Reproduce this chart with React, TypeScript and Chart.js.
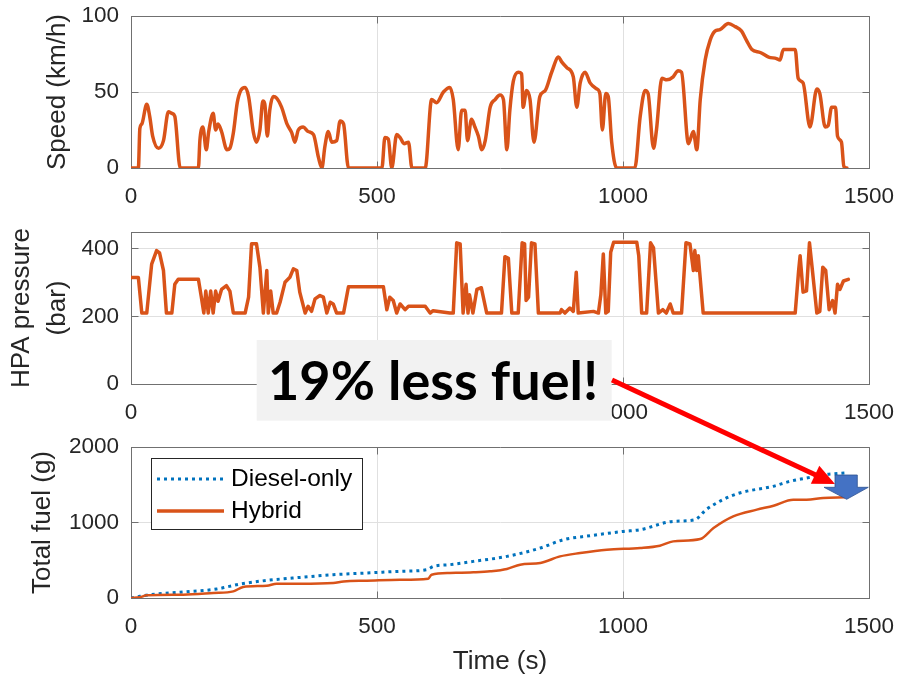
import React, { useEffect, useRef } from "react";
import { Chart, registerables } from "chart.js";

Chart.register(...registerables);

// ---------------- data ----------------
const X_TICKS = [0, 500, 1000, 1500];
const SPEED_TICKS = [0, 50, 100];
const HPA_TICKS = [0, 200, 400];
const FUEL_TICKS = [0, 1000, 2000];

const speedTime = [
  0, 15, 18, 22, 32, 38, 44, 56, 66, 76,
  83, 89, 100, 137, 140, 146, 153, 158, 167, 172,
  177, 184, 195, 201, 208, 216, 223, 232, 239, 249,
  255, 262, 268, 272, 277, 282, 289, 296, 306, 317,
  327, 333, 340, 350, 360, 371, 381, 388, 394, 401,
  408, 418, 425, 432, 442, 510, 516, 523, 530, 540,
  547, 555, 564, 571, 598, 611, 621, 635, 648, 655,
  665, 672, 679, 684, 692, 699, 706, 713, 720, 730,
  740, 750, 757, 764, 770, 777, 787, 794, 797, 804,
  811, 819, 831, 842, 855, 869, 875, 886, 899, 906,
  913, 923, 933, 947, 953, 958, 965, 970, 977, 987,
  1024, 1035, 1045, 1051, 1062, 1068, 1079, 1089, 1102, 1112,
  1119, 1133, 1143, 1150, 1157, 1167, 1177, 1187, 1197, 1214,
  1228, 1241, 1251, 1262, 1279, 1296, 1312, 1319, 1326, 1336,
  1350, 1356, 1366, 1380, 1394, 1400, 1411, 1417, 1424, 1432,
  1436, 1444, 1449, 1455,
];
const speedKmh = [
  0, 0, 26, 29, 42, 34, 21, 13, 18, 37,
  36, 34, 0, 0, 18, 27, 12, 24, 36, 25,
  29, 24, 12, 13, 23, 43, 51, 53, 47, 23,
  17, 25, 44, 42, 21, 38, 47, 46, 40, 29,
  23, 17, 25, 27, 24, 22, 7, 0, 14, 24,
  17, 18, 31, 29, 0, 0, 20, 19, 0, 22,
  20, 16, 17, 0, 0, 45, 43, 50, 53, 45,
  12, 38, 38, 18, 32, 27, 21, 12, 18, 40,
  45, 48, 45, 12, 38, 57, 63, 62, 40, 51,
  45, 17, 47, 51, 63, 73, 70, 66, 60, 40,
  56, 63, 56, 52, 49, 25, 49, 47, 17, 0,
  0, 34, 51, 49, 13, 25, 59, 58, 60, 64,
  63, 16, 24, 12, 45, 71, 84, 90, 91, 95,
  93, 90, 84, 78, 76, 73, 72, 71, 78, 78,
  78, 59, 56, 27, 52, 49, 27, 28, 40, 40,
  21, 17, 1, 0,
];

const hpaTime = [
  0, 15, 22, 32, 42, 52, 58, 66, 72, 83,
  89, 96, 137, 143, 148, 152, 157, 162, 167, 172,
  177, 184, 194, 201, 208, 232, 239, 245, 255, 262,
  269, 276, 279, 284, 289, 296, 303, 313, 323, 330,
  337, 343, 354, 360, 367, 374, 384, 391, 398, 405,
  411, 418, 432, 442, 513, 520, 526, 533, 540, 547,
  557, 564, 598, 608, 614, 648, 655, 662, 669, 675,
  681, 685, 688, 695, 703, 712, 723, 753, 760, 767,
  774, 787, 795, 800, 803, 808, 814, 821, 828, 872,
  875, 882, 892, 899, 905, 909, 940, 950, 955, 960,
  965, 970, 975, 981, 1028, 1032, 1038, 1048, 1056, 1062,
  1072, 1081, 1088, 1096, 1102, 1119, 1128, 1136, 1143, 1146,
  1150, 1153, 1163, 1350, 1357, 1360, 1366, 1373, 1379, 1385,
  1394, 1400, 1406, 1412, 1419, 1426, 1431, 1436, 1441, 1448,
  1458,
];
const hpaBar = [
  315, 315, 210, 210, 355, 395, 388, 336, 210, 210,
  295, 310, 310, 257, 210, 275, 210, 275, 210, 275,
  245, 280, 291, 275, 210, 210, 257, 415, 415, 346,
  210, 336, 210, 275, 210, 210, 242, 301, 316, 341,
  336, 272, 210, 230, 215, 252, 262, 257, 210, 242,
  237, 210, 210, 288, 288, 220, 257, 247, 210, 237,
  220, 230, 230, 210, 217, 210, 210, 418, 415, 210,
  295, 210, 264, 210, 280, 285, 210, 210, 377, 372,
  210, 210, 418, 415, 247, 257, 418, 415, 210, 210,
  220, 210, 225, 215, 331, 210, 215, 210, 264, 385,
  210, 215, 390, 420, 420, 380, 210, 210, 418, 403,
  210, 220, 210, 237, 210, 210, 418, 415, 336, 395,
  336, 380, 210, 210, 336, 380, 272, 276, 418, 336,
  210, 215, 346, 336, 220, 247, 210, 295, 280, 305,
  310,
];

const dieselTime = [
  0, 18, 39, 106, 174, 222, 276, 344, 411, 479,
  547, 601, 615, 648, 696, 764, 832, 879, 933, 1001,
  1034, 1102, 1146, 1169, 1203, 1237, 1305, 1339, 1373, 1407,
  1451,
];
const dieselFuel = [
  0, 22, 44, 79, 119, 185, 233, 273, 309, 331,
  353, 375, 419, 441, 485, 551, 662, 772, 825, 882,
  904, 1015, 1037, 1170, 1302, 1391, 1479, 1545, 1589, 1633,
  1656,
];

const hybridTime = [
  0, 18, 32, 106, 167, 208, 228, 276, 296, 344,
  411, 432, 479, 547, 604, 611, 648, 696, 730, 764,
  791, 832, 872, 913, 967, 1035, 1075, 1102, 1157, 1184,
  1224, 1272, 1306, 1346, 1373, 1407, 1451,
];
const hybridFuel = [
  0, 10, 35, 44, 66, 88, 146, 163, 190, 190,
  199, 220, 229, 242, 256, 309, 331, 340, 353, 384,
  441, 464, 551, 596, 640, 662, 693, 750, 781, 927,
  1081, 1170, 1222, 1302, 1302, 1324, 1333,
];

const SERIES_LABELS = ["Diesel-only", "Hybrid"];
const ANNOTATION_TEXT = "19% less fuel!";

// ---------------- styles ----------------
const ORANGE = "#D95319";
const BLUE = "#0072BD";
const TEXT = "#262626";
const AXIS = "#707070";
const GRID = "#e0e0e0";
const SANS = "'Liberation Sans', Arial, Helvetica, sans-serif";

const pts = (xs: number[], ys: number[]) => xs.map((x, i) => ({ x, y: ys[i] }));
const alignPx = (p: number) => Math.round(p - 0.5) + 0.5;

const boxPlugin = {
  id: "matlabBox",
  beforeDatasetsDraw(chart: any) {
    const { ctx, chartArea: a, scales } = chart;
    const L = alignPx(a.left);
    const R = alignPx(a.right);
    const T = alignPx(a.top);
    const B = alignPx(a.bottom);
    const len = 7;
    ctx.save();
    ctx.strokeStyle = AXIS;
    ctx.lineWidth = 1;
    ctx.beginPath();
    ctx.moveTo(L, T);
    ctx.lineTo(R, T);
    ctx.lineTo(R, B);
    scales.x.ticks.forEach((t: any) => {
      const x = alignPx(scales.x.getPixelForValue(t.value));
      ctx.moveTo(x, B);
      ctx.lineTo(x, B - len);
      ctx.moveTo(x, T);
      ctx.lineTo(x, T + len);
    });
    scales.y.ticks.forEach((t: any) => {
      const y = alignPx(scales.y.getPixelForValue(t.value));
      ctx.moveTo(L, y);
      ctx.lineTo(L + len, y);
      ctx.moveTo(R, y);
      ctx.lineTo(R - len, y);
    });
    ctx.stroke();
    ctx.restore();
  },
};

const legendPlugin = {
  id: "insideLegend",
  afterDatasetsDraw(chart: any) {
    const { ctx, chartArea: a } = chart;
    const bx = Math.round(a.left + 20) + 0.5;
    const by = Math.round(a.top + 11) + 0.5;
    ctx.save();
    ctx.fillStyle = "#ffffff";
    ctx.strokeStyle = "#262626";
    ctx.lineWidth = 1;
    ctx.fillRect(bx, by, 211, 71);
    ctx.strokeRect(bx, by, 211, 71);
    chart.data.datasets.forEach((ds: any, i: number) => {
      const y = a.top + 32 + i * 32;
      ctx.beginPath();
      ctx.strokeStyle = ds.borderColor;
      ctx.lineWidth = ds.legendWidth || ds.borderWidth;
      ctx.lineCap = "butt";
      ctx.setLineDash(ds.borderDash || []);
      ctx.moveTo(a.left + 26, y);
      ctx.lineTo(a.left + 93, y);
      ctx.stroke();
      ctx.setLineDash([]);
      ctx.fillStyle = "#000000";
      ctx.font = `24.5px ${SANS}`;
      ctx.textBaseline = "middle";
      ctx.textAlign = "left";
      ctx.fillText(ds.label, a.left + 100, y);
    });
    ctx.restore();
  },
};

type PanelCfg = {
  yMax: number;
  yTicks: number[];
  yTitle: string | string[];
  yTitlePad: number;
  yTitleLH: number;
  xHeight: number;
  xTitle?: string;
};

function panelOptions(cfg: PanelCfg): any {
  const tickFont = { family: SANS, size: 22.5 };
  return {
    responsive: false,
    maintainAspectRatio: false,
    animation: false,
    events: [],
    layout: { padding: { top: 16, right: 29, bottom: 0, left: 0 } },
    plugins: {
      legend: { display: false },
      tooltip: { enabled: false },
      title: { display: false },
    },
    elements: { point: { radius: 0, hoverRadius: 0 } },
    scales: {
      x: {
        type: "linear",
        min: 0,
        max: 1500,
        afterBuildTicks: (s: any) => {
          s.ticks = X_TICKS.map((v) => ({ value: v }));
        },
        afterFit: (s: any) => {
          s.height = cfg.xHeight;
          s.paddingLeft = 0;
          s.paddingRight = 0;
        },
        grid: { color: GRID, drawTicks: false, lineWidth: 1 },
        border: { display: true, color: AXIS, width: 1 },
        ticks: {
          color: TEXT,
          font: tickFont,
          padding: 15,
          maxRotation: 0,
          autoSkip: false,
          callback: (v: any) => String(v),
        },
        title: {
          display: !!cfg.xTitle,
          text: cfg.xTitle || "",
          color: TEXT,
          font: { family: SANS, size: 26, lineHeight: 1.2 },
          padding: { top: 0, bottom: 5 },
        },
      },
      y: {
        type: "linear",
        min: 0,
        max: cfg.yMax,
        afterBuildTicks: (s: any) => {
          s.ticks = cfg.yTicks.map((v) => ({ value: v }));
        },
        afterFit: (s: any) => {
          s.width = 131;
          s.paddingTop = 0;
          s.paddingBottom = 0;
        },
        grid: { color: GRID, drawTicks: false, lineWidth: 1 },
        border: { display: true, color: AXIS, width: 1 },
        ticks: {
          color: TEXT,
          font: tickFont,
          padding: 12,
          autoSkip: false,
          callback: (v: any) => String(v),
        },
        title: {
          display: true,
          text: cfg.yTitle,
          color: TEXT,
          font: { family: SANS, size: 26, lineHeight: cfg.yTitleLH },
          padding: { top: cfg.yTitlePad, bottom: 0 },
        },
      },
    },
  };
}

export default function App() {
  const r1 = useRef<HTMLCanvasElement>(null);
  const r2 = useRef<HTMLCanvasElement>(null);
  const r3 = useRef<HTMLCanvasElement>(null);

  useEffect(() => {
    const charts: Chart[] = [];
    charts.push(
      new Chart(r1.current as HTMLCanvasElement, {
        type: "line",
        data: {
          datasets: [
            {
              label: "Speed",
              data: pts(speedTime, speedKmh),
              borderColor: ORANGE,
              borderWidth: 3.5,
              cubicInterpolationMode: "monotone",
              borderJoinStyle: "round",
              borderCapStyle: "round",
              pointRadius: 0,
            } as any,
          ],
        },
        options: panelOptions({
          yMax: 100,
          yTicks: SPEED_TICKS,
          yTitle: "Speed (km/h)",
          yTitlePad: 42,
          yTitleLH: 1.2,
          xHeight: 47,
        }),
        plugins: [boxPlugin],
      })
    );
    charts.push(
      new Chart(r2.current as HTMLCanvasElement, {
        type: "line",
        data: {
          datasets: [
            {
              label: "HPA pressure",
              data: pts(hpaTime, hpaBar),
              borderColor: ORANGE,
              borderWidth: 3.5,
              tension: 0,
              borderJoinStyle: "round",
              borderCapStyle: "round",
              pointRadius: 0,
            } as any,
          ],
        },
        options: panelOptions({
          yMax: 450,
          yTicks: HPA_TICKS,
          yTitle: ["HPA pressure", "(bar)"],
          yTitlePad: 4,
          yTitleLH: 1.385,
          xHeight: 47,
        }),
        plugins: [boxPlugin],
      })
    );
    charts.push(
      new Chart(r3.current as HTMLCanvasElement, {
        type: "line",
        data: {
          datasets: [
            {
              label: SERIES_LABELS[0],
              data: pts(dieselTime, dieselFuel),
              borderColor: BLUE,
              borderWidth: 3,
              borderDash: [3, 4],
              cubicInterpolationMode: "monotone",
              pointRadius: 0,
              order: 1,
            } as any,
            {
              label: SERIES_LABELS[1],
              data: pts(hybridTime, hybridFuel),
              borderColor: ORANGE,
              borderWidth: 2.5,
              legendWidth: 3.3,
              cubicInterpolationMode: "monotone",
              borderJoinStyle: "round",
              pointRadius: 0,
              order: 0,
            } as any,
          ],
        },
        options: panelOptions({
          yMax: 2000,
          yTicks: FUEL_TICKS,
          yTitle: "Total fuel (g)",
          yTitlePad: 27.5,
          yTitleLH: 1.2,
          xHeight: 84,
          xTitle: "Time (s)",
        }),
        plugins: [boxPlugin, legendPlugin],
      })
    );
    return () => charts.forEach((c) => c.destroy());
  }, []);

  // red arrow geometry (annotation overlay)
  const sx = 612, sy = 380, tx = 835, ty = 484;
  const dx = tx - sx, dy = ty - sy;
  const dl = Math.hypot(dx, dy);
  const ux = dx / dl, uy = dy / dl;
  const hl = 22, hw = 10;
  const bxp = tx - ux * hl, byp = ty - uy * hl;
  const head = `${tx},${ty} ${bxp - uy * hw},${byp + ux * hw} ${bxp + uy * hw},${byp - ux * hw}`;

  return (
    <div
      style={{
        position: "absolute",
        left: 0,
        top: 0,
        width: 898,
        height: 682,
        background: "#ffffff",
        overflow: "hidden",
      }}
    >
      <canvas ref={r1} width={898} height={215} style={{ position: "absolute", left: 0, top: 0 }} />
      <canvas ref={r2} width={898} height={215} style={{ position: "absolute", left: 0, top: 216 }} />
      <canvas ref={r3} width={898} height={251} style={{ position: "absolute", left: 0, top: 431 }} />
      <svg
        width={898}
        height={682}
        style={{ position: "absolute", left: 0, top: 0, pointerEvents: "none" }}
      >
        <rect x={256.7} y={340} width={355} height={80.7} fill="#f2f2f2" />
        <text
          x={268}
          y={400}
          fontFamily="Lato, 'Open Sans', sans-serif"
          fontWeight={700}
          fontSize={54}
          fill="#000000"
        >
          {ANNOTATION_TEXT}
        </text>
        <line x1={sx} y1={sy} x2={bxp + ux * 2} y2={byp + uy * 2} stroke="#ff0000" strokeWidth={5} />
        <polygon points={head} fill="#ff0000" />
        <polygon
          points="835,475 857.3,475 857.3,487.3 868.3,487.3 846.7,499.3 824,487.3 835,487.3"
          fill="#4472C4"
          stroke="#2F528F"
          strokeWidth={0.8}
        />
      </svg>
    </div>
  );
}
